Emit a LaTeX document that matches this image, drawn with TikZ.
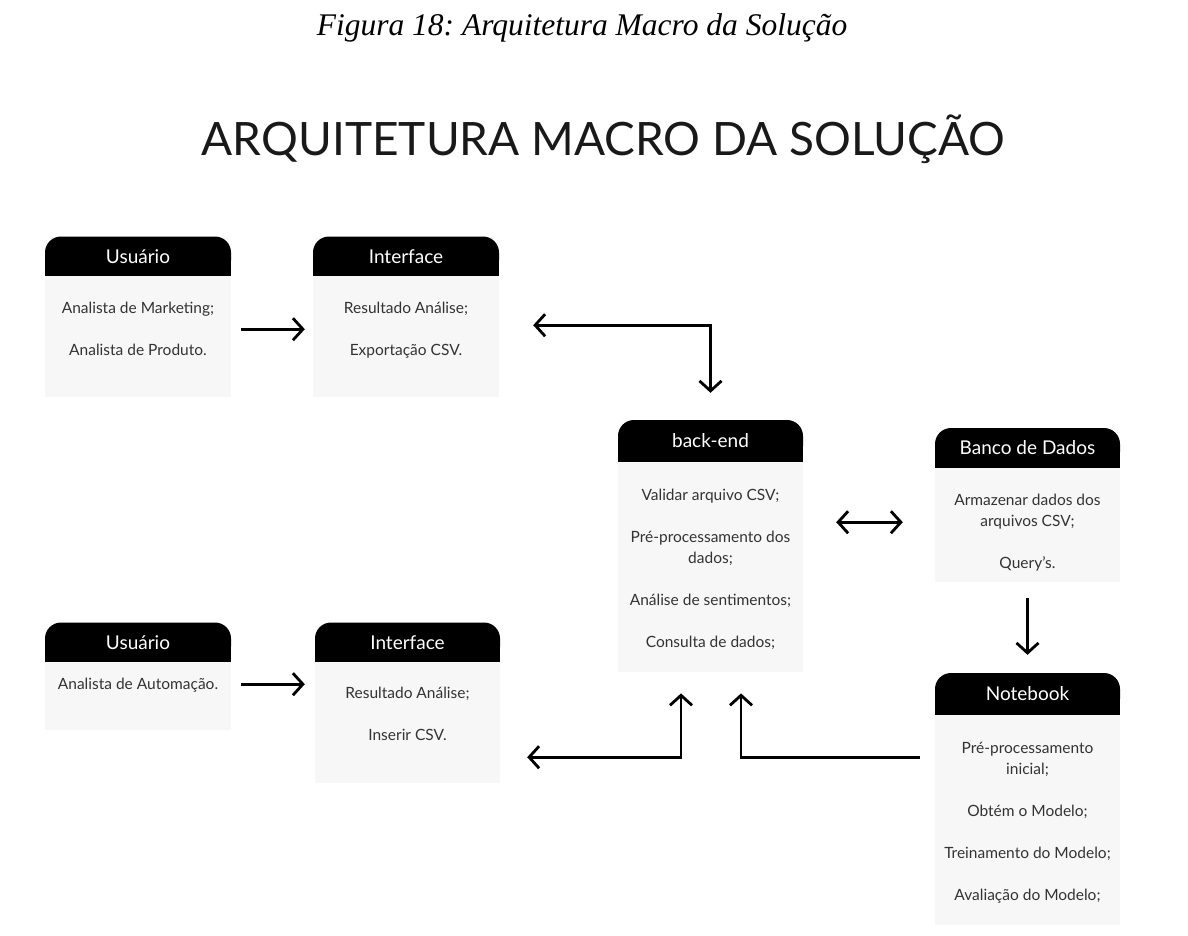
\documentclass[tikz,border=0pt]{standalone}
\usepackage{fontspec}
\setmainfont{Lato}
\newfontfamily\capfont{Liberation Serif}
\usetikzlibrary{arrows.meta}
\definecolor{boxgray}{HTML}{F7F7F7}
\definecolor{ink}{HTML}{333333}
\frenchspacing

\tikzset{
  head/.style={fill=black, text=white, rounded corners=16pt, minimum width=186pt, minimum height=40pt, inner sep=0pt, font=\fontsize{19}{22}\selectfont},
  box/.style={fill=boxgray, minimum width=186pt, inner sep=0pt, anchor=north},
  txt/.style={align=center, anchor=base, inner sep=0pt, text=ink, font=\fontsize{15.5}{21}\selectfont},
  link/.style={line width=2.8pt, -{Straight Barb[length=10pt,width=22pt]}},
  dlink/.style={line width=2.8pt, {Straight Barb[length=10pt,width=22pt]}-{Straight Barb[length=10pt,width=22pt]}}
}

\begin{document}
\begin{tikzpicture}[x=1pt,y=-1pt]
        \useasboundingbox (0,0) rectangle (1188,935);

        \node [anchor=base, font=\capfont\itshape\fontsize{31.5}{34}\selectfont] (caption) at (582,35) {Figura 18: Arquitetura Macro da Solução};
        \node [anchor=base, text=black!90, font=\fontsize{46}{50}\selectfont] (title) at (603.5,155) {ARQUITETURA MACRO DA SOLUÇÃO};

        \fill (45,257) rectangle (231,276.5);
        \node [head] (usrAHd) at (138,256.5) {Usuário};
        \node [box, minimum height=121pt] (usrAbox) at (138,276) {};
        \node [txt] (usrAtxt) at (138,355.5) {Analista de Marketing;\\[21pt] Analista de Produto.};

        \fill (313,257) rectangle (499,276.5);
        \node [head] (intAHd) at (406,256.5) {Interface};
        \node [box, minimum height=121pt] (intAbox) at (406,276) {};
        \node [txt] (intAtxt) at (406,355.5) {Resultado Análise;\\[21pt] Exportação CSV.};

        \fill (618,441) rectangle (803,462.5);
        \node [head, minimum width=185pt, minimum height=42pt] (backHd) at (710.5,441) {back-end};
        \node [box, minimum width=185pt, minimum height=210pt] (backBox) at (710.5,462) {};
        \node [txt] (backTxt) at (710.5,647.5) {Validar arquivo CSV;\\[21pt] Pré-processamento dos\\ dados;\\[21pt] Análise de sentimentos;\\[21pt] Consulta de dados;};

        \fill (935,448) rectangle (1120,468.5);
        \node [head, minimum width=185pt] (bankHd) at (1027.5,448) {Banco de Dados};
        \node [box, minimum width=185pt, minimum height=114pt] (bankBox) at (1027.5,468) {};
        \node [txt] (bankTxt) at (1027.5,568.5) {Armazenar dados dos\\ arquivos CSV;\\[21pt] Query's.};

        \fill (935,694) rectangle (1120,715.5);
        \node [head, minimum width=185pt, minimum height=42pt] (noteHd) at (1027.5,694) {Notebook};
        \node [box, minimum width=185pt, minimum height=210pt] (noteBox) at (1027.5,715) {};
        \node [txt] (noteTxt) at (1027.5,900.5) {Pré-processamento\\ inicial;\\[21pt] Obtém o Modelo;\\[21pt] Treinamento do Modelo;\\[21pt] Avaliação do Modelo;};

        \fill (45,643) rectangle (231,662.5);
        \node [head] (usrBHd) at (138,642.5) {Usuário};
        \node [box, minimum height=68pt] (usrBbox) at (138,662) {};
        \node [txt] (usrBtxt) at (138,689.5) {Analista de Automação.};

        \fill (315,643) rectangle (500,662.5);
        \node [head, minimum width=185pt] (intBHd) at (407.5,642.5) {Interface};
        \node [box, minimum width=185pt, minimum height=121pt] (intBbox) at (407.5,662) {};
        \node [txt] (intBtxt) at (407.5,740.5) {Resultado Análise;\\[21pt] Inserir CSV.};

        \draw [link] ([xshift=10pt,yshift=7.5pt]usrAbox.east) -- ([xshift=-8pt,yshift=7.5pt]intAbox.west);
        \draw [dlink] ([xshift=34pt,yshift=11.5pt]intAbox.east) -| ([yshift=27pt]backHd.north);
        \draw [dlink] ([xshift=33pt,yshift=45pt]backBox.east) -- ([xshift=-32pt,yshift=3pt]bankBox.west);
        \draw [link] ([yshift=-16pt]bankBox.south) -- ([yshift=18pt]noteHd.north);
        \draw [link] ([xshift=10pt,yshift=12pt]usrBbox.east) -- ([xshift=-10pt,yshift=38.5pt]intBbox.west);
        \draw [dlink] ([xshift=-29.5pt,yshift=-21pt]backBox.south) |- ([xshift=27pt,yshift=-34.5pt]intBbox.east);
        \draw [link] ([xshift=-15pt,yshift=63pt]noteBox.west) -| ([xshift=30.5pt,yshift=-21pt]backBox.south);
    \end{tikzpicture}
\end{document}
